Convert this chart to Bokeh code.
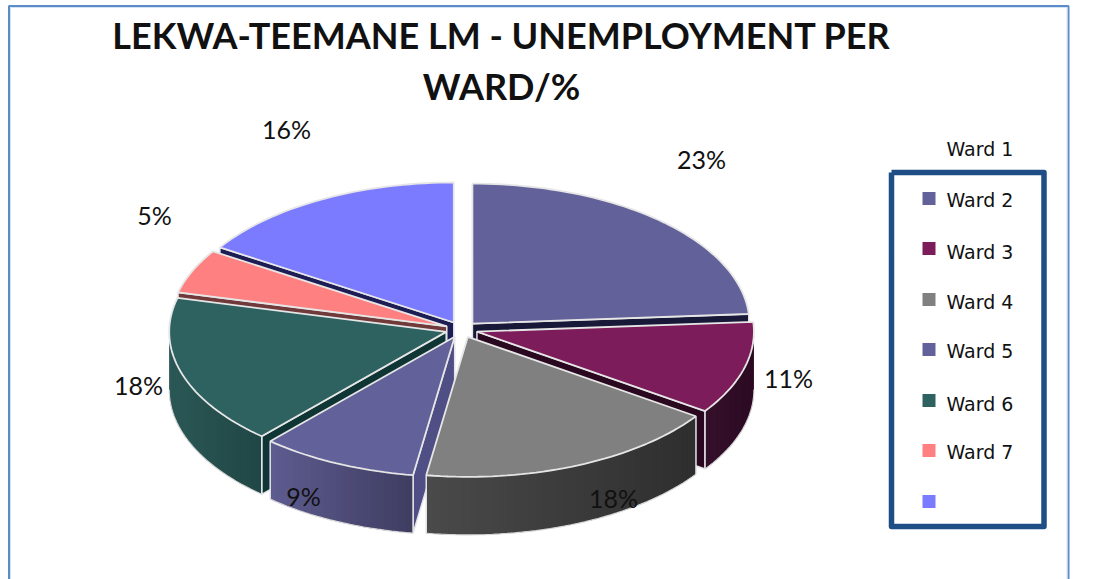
import math
from bokeh.plotting import figure
from bokeh.embed import file_html
from bokeh.resources import INLINE
from bokeh.core.properties import value

title_lines = ["LEKWA-TEEMANE LM - UNEMPLOYMENT PER", "WARD/%"]
legend_labels = ["Ward 1", "Ward 2", "Ward 3", "Ward 4", "Ward 5", "Ward 6", "Ward 7", ""]
# slice sizes (clockwise from 12 o'clock)
slice_values = [23.9, 10.7, 17.8, 9.2, 17.3, 5.1, 16.0]
slice_labels = ["23%", "11%", "18%", "9%", "18%", "5%", "16%"]
top_colors = ["#62619a", "#7c1c5a", "#808080", "#62619a", "#2e6260", "#ff8080", "#7b7bff"]
wall_left = ["#34345a", "#35102b", "#4a4a4a", "#5e5c90", "#2b5856", "#7a3c3c", "#2c2c66"]
wall_right = ["#2a2a4c", "#2c0a22", "#2e2e2e", "#3e3d60", "#1f4644", "#6a3030", "#22224f"]
radial_colors = ["#181838", "#2a0820", "#333333", "#4f4e85", "#0f3534", "#70393a", "#1d1d55"]
legend_colors = ["#62619a", "#7c1c5a", "#808080", "#62619a", "#2e6260", "#ff8080", "#7b7bff"]
legend_square_y = [198, 248, 299, 349, 400, 450, 501]
legend_text_y = [148, 199, 251, 301, 350, 403, 451]
label_x = [701, 788, 613, 303, 138, 154, 286]
label_y = [158.5, 377.5, 497.5, 495.5, 384.5, 214.5, 128.5]

CX, CY, RX, RY, DEPTH, EXPLODE = 461, 329, 277, 140, 58, 16


def hex_rgb(h):
    return tuple(int(h[i:i + 2], 16) for i in (1, 3, 5))


def mix(a, b, t):
    ra, rb = hex_rgb(a), hex_rgb(b)
    return "#%02x%02x%02x" % tuple(round(ra[i] + (rb[i] - ra[i]) * t) for i in range(3))


total = sum(slice_values)
slices = []
acc = 0.0
for i, v in enumerate(slice_values):
    a0, a1 = acc / total * 360, (acc + v) / total * 360
    acc += v
    mid = math.radians((a0 + a1) / 2)
    ax = CX + EXPLODE * math.sin(mid)
    ay = CY - EXPLODE * 0.5 * math.cos(mid)
    slices.append((i, a0, a1, ax, ay, -math.cos(mid)))


def rim(ax, ay, deg):
    t = math.radians(deg)
    return ax + RX * math.sin(t), ay - RY * math.cos(t)


p = figure(width=1101, height=579, x_range=(0, 1101), y_range=(579, 0),
           x_axis_type=None, y_axis_type=None, toolbar_location=None,
           output_backend="svg", min_border=0, outline_line_color=None,
           background_fill_color="white", border_fill_color="white")
p.grid.visible = False
p.styles = {"position": "absolute", "left": "0px", "top": "0px"}

# frame
p.line([8.5, 8.5, 1068, 1068], [579, 5.5, 5.5, 579], line_color="#5b8bc9", line_width=2)
p.line([10, 10, 1066.5, 1066.5], [579, 7, 7, 579], line_color="#d5e3f3", line_width=1)

for i, a0, a1, ax, ay, _ in sorted(slices, key=lambda s: s[5]):
    # visible radial cut faces
    for deg, visible in ((a0, 180 <= a0 < 360), (a1, 0 < a1 < 180)):
        if visible:
            rx_, ry_ = rim(ax, ay, deg)
            p.patch([ax, rx_, rx_, ax], [ay, ry_, ry_ + DEPTH, ay + DEPTH],
                    fill_color=radial_colors[i], line_color="#e4e4e8", line_width=1.5)
    # outer wall: each band overlaps the next so no seams show
    lo, hi = max(a0, 90), min(a1, 270)
    if hi > lo:
        n = max(2, int((hi - lo) / 1.5))
        degs = [lo + (hi - lo) * k / n for k in range(n + 1)]
        pts = [rim(ax, ay, d) for d in degs]
        xmin, xmax = min(q[0] for q in pts), max(q[0] for q in pts)
        for k in range(n):
            seg = pts[k:k + 3]
            t = ((pts[k][0] + pts[k + 1][0]) / 2 - xmin) / (xmax - xmin)
            c = mix(wall_left[i], wall_right[i], t)
            xs = [q[0] for q in seg]
            ys = [q[1] for q in seg]
            p.patch(xs + xs[::-1], ys + [y + DEPTH for y in ys[::-1]], fill_color=c, line_color=None)
        p.line([q[0] for q in pts], [q[1] + DEPTH for q in pts], line_color="#d8d8d8", line_width=1.2)
        for q, d in ((pts[0], degs[0]), (pts[-1], degs[-1])):
            if 90 < d < 270:
                p.line([q[0], q[0]], [q[1], q[1] + DEPTH], line_color="#e4e4e8", line_width=1.5)
    # top face
    n = max(2, int((a1 - a0) / 1.5))
    arc = [rim(ax, ay, a0 + (a1 - a0) * k / n) for k in range(n + 1)]
    p.patch([ax] + [q[0] for q in arc], [ay] + [q[1] for q in arc],
            fill_color=top_colors[i], line_color="#e6e6e6", line_width=1.8)

# data labels
p.text(label_x, label_y, text=slice_labels, text_font=value("Lato"), text_font_size="25px",
       text_color="#111111", text_align="center", text_baseline="middle")

# title
p.text([501, 501], [34.5, 85.5], text=title_lines, text_font=value("Lato"), text_font_size="36px",
       text_font_style="bold", text_color="#111111", text_align="center", text_baseline="middle")

# legend
p.line([891, 1043.5, 1043.5, 891, 891], [172, 172, 526, 526, 172], line_color="#1f4e86", line_width=5.5,
       line_join="round")
p.rect([928.5] * 7, legend_square_y, width=13, height=13, fill_color=legend_colors, line_color=None)
p.text([946] * 8, legend_text_y + [501], text=legend_labels, text_font=value("DejaVu Sans"),
       text_font_size="19px", text_color="#111111", text_align="left", text_baseline="middle")

open("out.html", "w").write(file_html(p, INLINE))
